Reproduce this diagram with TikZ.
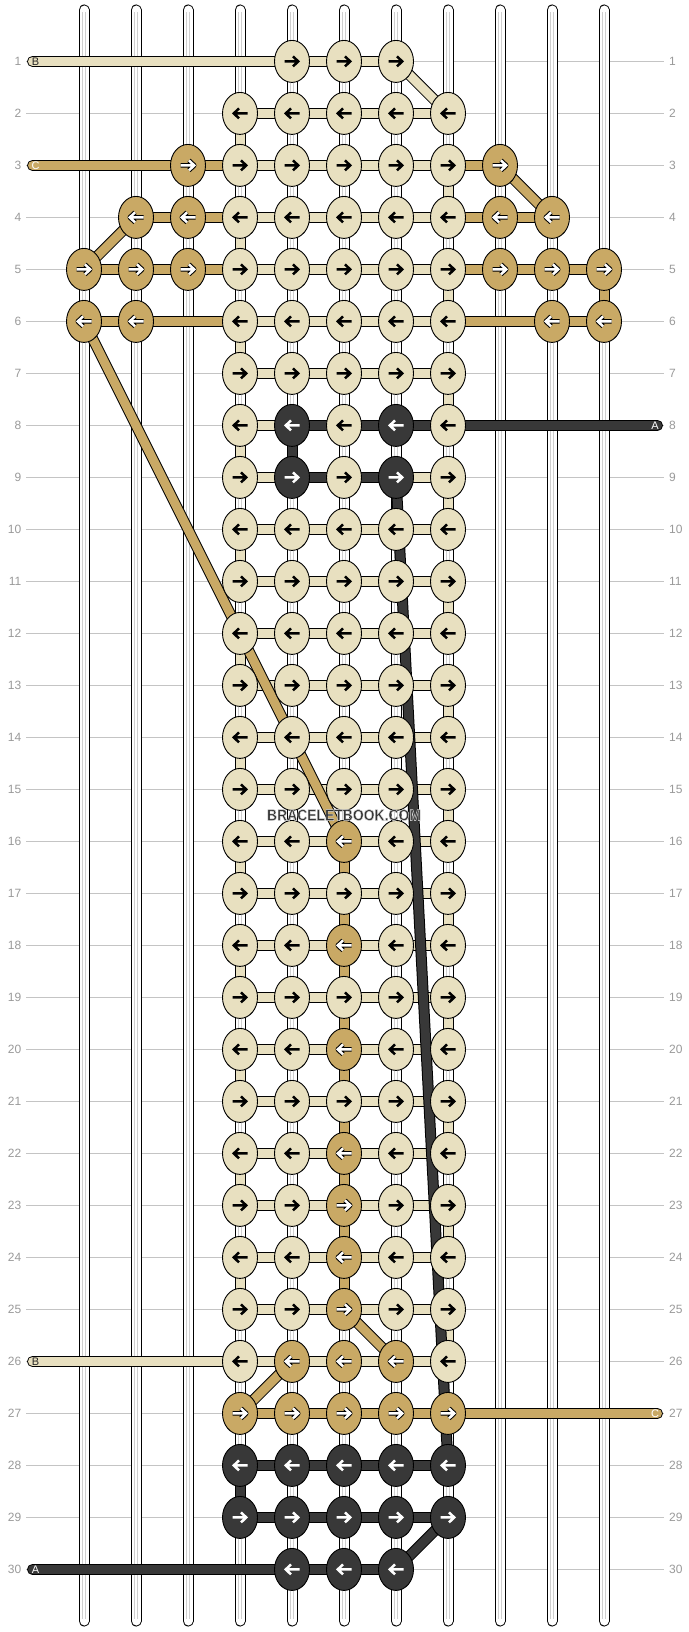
\documentclass[tikz,border=0pt]{standalone}
\usepackage{fontspec}
\setmainfont{Liberation Sans}
\usetikzlibrary{shapes.geometric}
\definecolor{cL}{HTML}{E8E0C0}
\definecolor{cD}{HTML}{C9A965}
\definecolor{cK}{HTML}{383838}
\colorlet{oL}{cL}
\colorlet{iL}{black}
\colorlet{oD}{black}
\colorlet{iD}{white}
\colorlet{oK}{cK}
\colorlet{iK}{white}
\definecolor{gridc}{HTML}{C4C4C4}
\definecolor{numc}{HTML}{9A9A9A}
\definecolor{strc}{HTML}{CFCFCF}
\definecolor{wmc}{HTML}{333333}
\pgfdeclarelayer{back}
\pgfdeclarelayer{bars}
\pgfdeclarelayer{over}
\pgfsetlayers{back,bars,main,over}
\tikzset{
 knot/.style={ellipse,draw=black,line width=0.9pt,minimum width=35pt,minimum height=42pt,inner sep=0pt,outer sep=0pt},
 thr/.style={draw=black,line width=1pt,double distance=9pt},
 tend/.style={thr,line cap=round},
 strg/.style={draw=black,line width=1pt,double=white,double distance=9pt,line cap=round},
 strin/.style={draw=strc,line width=0.8pt,double=white,double distance=1.6pt,shorten <=2pt,shorten >=2pt},
 gridline/.style={draw=gridc,line width=1pt},
 rownum/.style={font=\fontsize{12}{12}\selectfont,text=numc,inner sep=0pt},
 endlbl/.style={font=\fontsize{11}{11}\selectfont,inner sep=0pt},
}
\begin{document}
\begin{tikzpicture}[x=1pt,y=-1pt]
\useasboundingbox (0,0) rectangle (688,1632);
\begin{pgfonlayer}{back}
\fill[white] (0,0) rectangle (688,1632);
\foreach \r in {1,...,30} {
  \coordinate (gl\r) at (26,{9.4+52*\r});
  \coordinate (gr\r) at (664,{9.4+52*\r});
  \draw[gridline] (gl\r) -- (gr\r);
  \node[rownum,anchor=east] (nl\r) at (21.5,{9.4+52*\r}) {\r};
  \node[rownum,anchor=west] (nr\r) at (669,{9.4+52*\r}) {\r};
}
\foreach \cc in {0,...,10} {
  \coordinate (st\cc) at ({84+52*\cc},10);
  \coordinate (sb\cc) at ({84+52*\cc},1621);
  \draw[strg] (st\cc) -- (sb\cc);
  \draw[strin] (st\cc) -- (sb\cc);
}
\end{pgfonlayer}
% knots
\foreach \r/\lst in {
 1/{4/L,5/L,6/L},
 2/{3/L,4/L,5/L,6/L,7/L},
 3/{2/D,3/L,4/L,5/L,6/L,7/L,8/D},
 4/{1/D,2/D,3/L,4/L,5/L,6/L,7/L,8/D,9/D},
 5/{0/D,1/D,2/D,3/L,4/L,5/L,6/L,7/L,8/D,9/D,10/D},
 6/{0/D,1/D,3/L,4/L,5/L,6/L,7/L,9/D,10/D},
 7/{3/L,4/L,5/L,6/L,7/L},
 8/{3/L,4/K,5/L,6/K,7/L},
 9/{3/L,4/K,5/L,6/K,7/L},
 10/{3/L,4/L,5/L,6/L,7/L},
 11/{3/L,4/L,5/L,6/L,7/L},
 12/{3/L,4/L,5/L,6/L,7/L},
 13/{3/L,4/L,5/L,6/L,7/L},
 14/{3/L,4/L,5/L,6/L,7/L},
 15/{3/L,4/L,5/L,6/L,7/L},
 16/{3/L,4/L,5/D,6/L,7/L},
 17/{3/L,4/L,5/L,6/L,7/L},
 18/{3/L,4/L,5/D,6/L,7/L},
 19/{3/L,4/L,5/L,6/L,7/L},
 20/{3/L,4/L,5/D,6/L,7/L},
 21/{3/L,4/L,5/L,6/L,7/L},
 22/{3/L,4/L,5/D,6/L,7/L},
 23/{3/L,4/L,5/D,6/L,7/L},
 24/{3/L,4/L,5/D,6/L,7/L},
 25/{3/L,4/L,5/D,6/L,7/L},
 26/{3/L,4/D,5/D,6/D,7/L},
 27/{3/D,4/D,5/D,6/D,7/D},
 28/{3/K,4/K,5/K,6/K,7/K},
 29/{3/K,4/K,5/K,6/K,7/K},
 30/{4/K,5/K,6/K}} {
  \pgfmathtruncatemacro\dir{2*mod(\r,2)-1}
  \foreach \cc/\kk in \lst {
    \node[knot,fill=c\kk] (k\r-\cc) at ({84+52*\cc},{9.4+52*\r}) {};
    \begin{scope}[shift={(k\r-\cc.center)},xscale=\dir]
      \draw[draw=o\kk,line width=4.6pt,line join=round] (-7.5,0) -- (5.5,0) (1,-5) -- (6.2,0) -- (1,5);
      \draw[draw=i\kk,line width=2.5pt] (-7.5,0) -- (5.5,0) (1,-5) -- (6.2,0) -- (1,5);
    \end{scope}
  }
}
% thread ends
\coordinate (eB1) at (32.5,61.4);
\coordinate (eC3) at (32.5,165.4);
\coordinate (eA8) at (657.5,425.4);
\coordinate (eB26) at (32.5,1361.4);
\coordinate (eC27) at (657.5,1413.4);
\coordinate (eA30) at (32.5,1569.4);
\begin{pgfonlayer}{bars}
\foreach \r in {2,3,4,5,6,7,10,11,...,26}
  \foreach \ca/\cb in {3/4,4/5,5/6,6/7}
    \draw[thr,double=cL] (k\r-\ca.center) -- (k\r-\cb.center);
\foreach \r/\ca/\cb/\kk in {1/4/5/L,1/5/6/L,3/2/3/D,3/7/8/D,4/1/2/D,4/2/3/D,4/7/8/D,4/8/9/D,
  5/0/1/D,5/1/2/D,5/2/3/D,5/7/8/D,5/8/9/D,5/9/10/D,6/0/1/D,6/1/3/D,6/7/9/D,6/9/10/D,
  8/3/4/L,8/4/5/K,8/5/6/K,8/6/7/K,9/3/4/L,9/4/5/K,9/5/6/K,9/6/7/L,
  27/3/4/D,27/4/5/D,27/5/6/D,27/6/7/D,28/3/4/K,28/4/5/K,28/5/6/K,28/6/7/K,
  29/3/4/K,29/4/5/K,29/5/6/K,29/6/7/K,30/4/5/K,30/5/6/K}
  \draw[thr,double=c\kk] (k\r-\ca.center) -- (k\r-\cb.center);
\foreach \r in {2,4,...,24} {
  \pgfmathtruncatemacro\rn{\r+1}
  \draw[thr,double=cL] (k\r-3.center) -- (k\rn-3.center);
}
\foreach \r in {3,5,...,25} {
  \pgfmathtruncatemacro\rn{\r+1}
  \draw[thr,double=cL] (k\r-7.center) -- (k\rn-7.center);
}
\foreach \r in {16,...,24} {
  \pgfmathtruncatemacro\rn{\r+1}
  \draw[thr,double=cD] (k\r-5.center) -- (k\rn-5.center);
}
\draw[thr,double=cD] (k5-10.center) -- (k6-10.center);
\draw[thr,double=cK] (k8-4.center) -- (k9-4.center);
\draw[thr,double=cK] (k28-3.center) -- (k29-3.center);
\draw[thr,double=cL] (k1-6.center) -- (k2-7.center);
\draw[thr,double=cD] (k3-8.center) -- (k4-9.center);
\draw[thr,double=cD] (k4-1.center) -- (k5-0.center);
\draw[thr,double=cD] (k6-0.center) -- (k16-5.center);
\draw[thr,double=cD] (k25-5.center) -- (k26-6.center);
\draw[thr,double=cD] (k26-4.center) -- (k27-3.center);
\draw[thr,double=cK] (k29-7.center) -- (k30-6.center);
\draw[tend,double=cL] (eB1) -- (k1-4.center);
\draw[tend,double=cD] (eC3) -- (k3-2.center);
\draw[tend,double=cK] (k8-7.center) -- (eA8);
\draw[tend,double=cL] (eB26) -- (k26-3.center);
\draw[tend,double=cD] (k27-7.center) -- (eC27);
\draw[tend,double=cK] (eA30) -- (k30-4.center);
\draw[thr,double=cK] (k9-6.center) -- (k28-7.center);
\end{pgfonlayer}
% end labels
\node[endlbl,text=black!85] (lB1) at (35.5,61.4) {B};
\node[endlbl,text=white] (lC3) at (35.5,165.4) {C};
\node[endlbl,text=white] (lA8) at (655,425.4) {A};
\node[endlbl,text=black!85] (lB26) at (35.5,1361.4) {B};
\node[endlbl,text=white] (lC27) at (655,1413.4) {C};
\node[endlbl,text=white] (lA30) at (35.5,1569.4) {A};
\begin{pgfonlayer}{over}
\node[font=\bfseries\fontsize{16}{16}\selectfont,text=wmc,xscale=0.87,inner sep=0pt] (wm) at (344,815)
  {\special{pdf:literal direct 2 Tr 0.5 w 0.85 0.85 0.85 RG}BRACELETBOOK.COM\special{pdf:literal direct 0 Tr}};
\end{pgfonlayer}
\end{tikzpicture}
\end{document}
